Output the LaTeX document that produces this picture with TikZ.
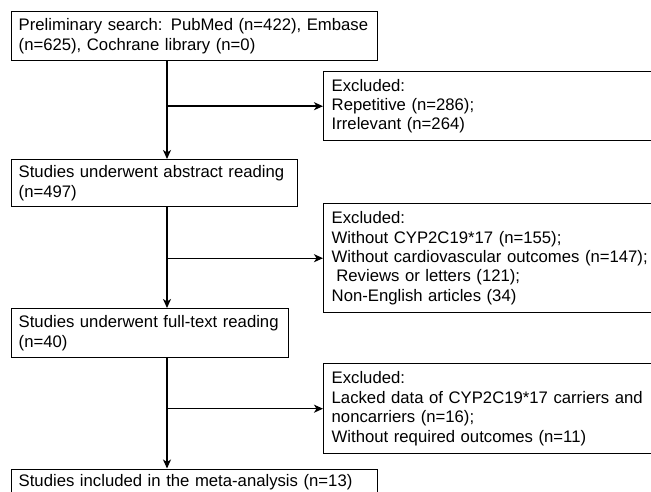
\documentclass[tikz,border=0pt]{standalone}
\usepackage{fontspec}
\setmainfont{Liberation Sans}
\usetikzlibrary{arrows.meta}

\begin{document}
\begin{tikzpicture}[x=1pt,y=-1pt,line width=1.4pt,
  >={Stealth[length=9pt,width=8pt,inset=2.5pt]},
  stage box/.style={draw,anchor=north west,align=left,inner xsep=7pt,
    font=\fontsize{16.7}{19.6}\selectfont},
  excl box/.style={draw,anchor=north west,align=left,inner xsep=8pt,
    text width=351pt,font=\fontsize{16.7}{19.4}\selectfont}]

  \useasboundingbox (0,0) rectangle (651,492);
  \clip (0,0) rectangle (651,492);

  \coordinate (spine) at (167,0);

  \node[stage box,text width=352pt,minimum height=49pt] (search) at (11,11)
    {Preliminary search: PubMed (n=422), Embase\\(n=625), Cochrane library (n=0)};
  \node[stage box,text width=272pt,minimum height=47pt] (abstract) at (11,159)
    {Studies underwent abstract reading\\(n=497)};
  \node[stage box,text width=263pt,minimum height=49pt] (fulltext) at (11,308)
    {Studies underwent full-text reading\\(n=40)};
  \node[stage box,text width=352pt,inner ysep=5.5pt] (included) at (11,468.5)
    {Studies included in the meta-analysis (n=13)};

  \node[excl box,minimum height=69pt] (excl1) at (323,71)
    {Excluded:\\Repetitive (n=286);\\Irrelevant (n=264)};
  \node[excl box,minimum height=109pt] (excl2) at (323,203)
    {Excluded:\\Without CYP2C19*17 (n=155);\\Without cardiovascular outcomes (n=147);\\
     \hspace*{0.28em}Reviews or letters (121);\\Non-English articles (34)};
  \node[excl box,minimum height=90pt] (excl3) at (323,363)
    {Excluded:\\Lacked data of CYP2C19*17 carriers and\\noncarriers (n=16);\\
     Without required outcomes (n=11)};

  \draw[->] (search.south -| spine) -- (abstract.north -| spine);
  \draw[->] (abstract.south -| spine) -- (fulltext.north -| spine);
  \draw[->] (fulltext.south -| spine) -- (included.north -| spine);
  \draw[->] (excl1.west -| spine) -- (excl1.west);
  \draw[->] (excl2.west -| spine) -- (excl2.west);
  \draw[->] (excl3.west -| spine) -- (excl3.west);
\end{tikzpicture}
\end{document}
